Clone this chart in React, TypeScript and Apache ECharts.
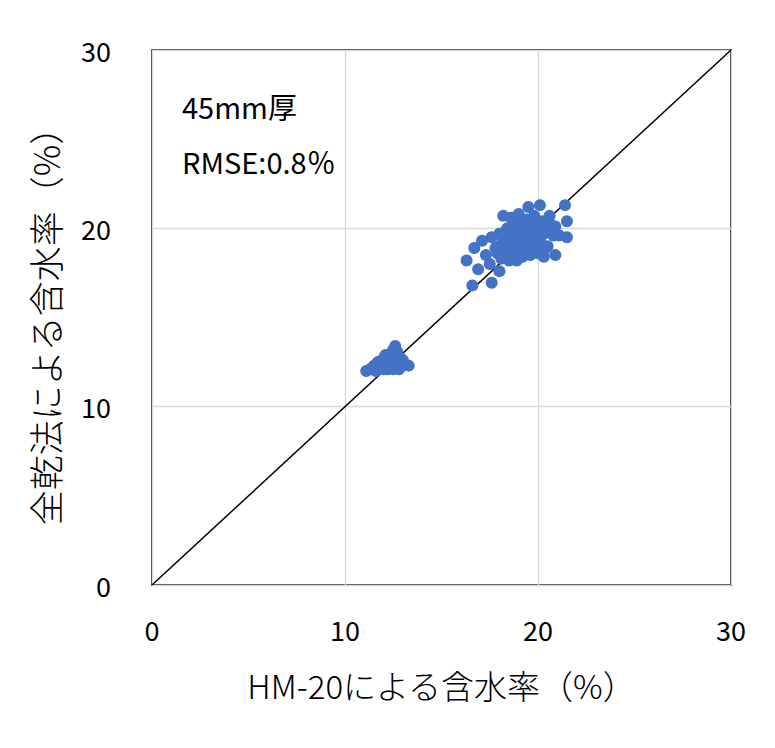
import React, { useEffect, useRef } from "react";
import * as echarts from "echarts";

const xTicks = [0, 10, 20, 30];
const xName = "HM-20による含水率（%）";
const yName = "全乾法による含水率（%）";
const note1 = "45mm厚";
const note2 = "RMSE:0.8％";

const hmX = [
  11.1, 11.3, 11.5, 11.6, 11.7, 11.8, 11.9, 12.0, 12.0, 12.1, 12.1, 12.2, 12.2, 12.3, 12.3, 12.4, 12.4, 12.5,
  12.5, 12.6, 12.6, 12.7, 12.7, 12.8, 12.8, 12.9, 13.0, 13.1, 13.3, 12.5, 12.6, 12.2, 11.9, 12.4, 12.7, 13.0,
  21.4, 21.5, 21.5, 20.1, 19.5, 18.2, 16.3, 16.6, 17.6, 16.7, 16.9, 20.6, 20.9, 17.1, 17.6, 18.0, 20.3, 18.9,
  21.1, 20.5, 19.0, 18.6, 17.3, 17.5, 17.9, 18.3,
  18.4, 18.5, 18.6, 18.7, 18.8, 18.9, 19.0, 19.0, 19.1, 19.2, 19.3, 19.3, 19.4, 19.5, 19.5, 19.6, 19.7, 19.7,
  19.8, 19.9, 19.9, 20.0, 20.0, 20.1, 20.2, 20.3, 20.4, 20.5, 20.6, 18.2, 18.0, 17.8, 18.1, 18.5, 18.8, 19.2,
  19.6, 20.8, 20.9, 19.8, 19.3, 18.7, 18.4, 18.0,
];
const dryY = [
  12.0, 12.1, 12.3, 12.0, 12.5, 12.2, 12.6, 12.1, 12.7, 12.4, 12.9, 12.2, 12.6, 12.8, 12.3, 13.0, 12.5, 13.2,
  12.1, 13.4, 12.6, 12.9, 12.3, 12.5, 12.1, 12.7, 12.3, 12.4, 12.3, 12.4, 12.8, 12.1, 12.4, 12.2, 13.1, 12.6,
  21.3, 20.4, 19.5, 21.3, 21.2, 20.7, 18.2, 16.8, 16.95, 18.9, 17.7, 20.7, 18.5, 19.3, 19.5, 17.6, 18.4, 18.2,
  19.6, 19.0, 20.8, 20.6, 18.5, 18.0, 18.6, 18.4,
  19.0, 19.6, 18.7, 19.9, 19.3, 20.3, 18.9, 19.6, 20.1, 19.2, 18.6, 19.8, 20.5, 19.0, 19.5, 20.0, 18.8, 19.4,
  20.3, 19.1, 19.7, 18.6, 20.0, 19.4, 20.4, 19.7, 18.9, 19.9, 20.3, 19.3, 19.0, 18.9, 18.3, 18.2, 18.5, 18.4,
  18.5, 19.6, 20.1, 20.7, 20.3, 20.2, 20.0, 19.7,
];
const refLineX = [0, 30];

export default function App() {
  const ref = useRef<HTMLDivElement>(null);
  useEffect(() => {
    if (!ref.current) return;
    const chart = echarts.init(ref.current, null, { renderer: "svg" });
    const font = "'Noto Sans CJK JP', 'Noto Sans', sans-serif";
    const minV = xTicks[0];
    const maxV = xTicks[xTicks.length - 1];
    const step = xTicks[1] - xTicks[0];
    chart.setOption({
      animation: false,
      backgroundColor: "#fff",
      grid: {
        left: 152,
        top: 50,
        width: 579,
        height: 535,
        show: true,
        borderColor: "#000",
        borderWidth: 1.5,
        backgroundColor: "transparent",
      },
      xAxis: {
        type: "value",
        min: minV,
        max: maxV,
        interval: step,
        name: xName,
        nameLocation: "middle",
        nameGap: 83,
        nameTextStyle: { fontSize: 33, color: "#000", fontFamily: font, fontWeight: 300 },
        axisLine: { show: false },
        axisTick: { show: false },
        axisLabel: { fontSize: 27, color: "#000", margin: 31, fontFamily: font, fontWeight: 400 },
        splitLine: { show: true, lineStyle: { color: "#d9d9d9", width: 1.3 } },
      },
      yAxis: {
        type: "value",
        min: minV,
        max: maxV,
        interval: step,
        name: yName,
        nameLocation: "middle",
        nameGap: 90,
        nameTextStyle: { fontSize: 35, color: "#000", fontFamily: font, fontWeight: 300 },
        axisLine: { show: false },
        axisTick: { show: false },
        axisLabel: { fontSize: 27, color: "#000", margin: 41, fontFamily: font, fontWeight: 400 },
        splitLine: { show: true, lineStyle: { color: "#d9d9d9", width: 1.3 } },
      },
      graphic: [
        {
          type: "text",
          left: 182,
          top: 91,
          style: { text: note1, fontSize: 29, fill: "#000", fontFamily: font, fontWeight: 400 },
        },
        {
          type: "text",
          left: 182,
          top: 146,
          style: { text: note2, fontSize: 29, fill: "#000", fontFamily: font, fontWeight: 400 },
        },
      ],
      series: [
        {
          type: "line",
          data: refLineX.map((v) => [v, v]),
          symbol: "none",
          lineStyle: { color: "#000", width: 1.5 },
          z: 3,
        },
        {
          type: "scatter",
          data: hmX.map((x, i) => [x, dryY[i]]),
          symbol: "circle",
          symbolSize: 12,
          itemStyle: { color: "#4472C4", opacity: 1 },
          z: 4,
        },
      ],
    });
    return () => chart.dispose();
  }, []);
  return (
    <div
      ref={ref}
      style={{ position: "fixed", left: 0, top: 0, width: 775, height: 748, background: "#fff" }}
    />
  );
}
